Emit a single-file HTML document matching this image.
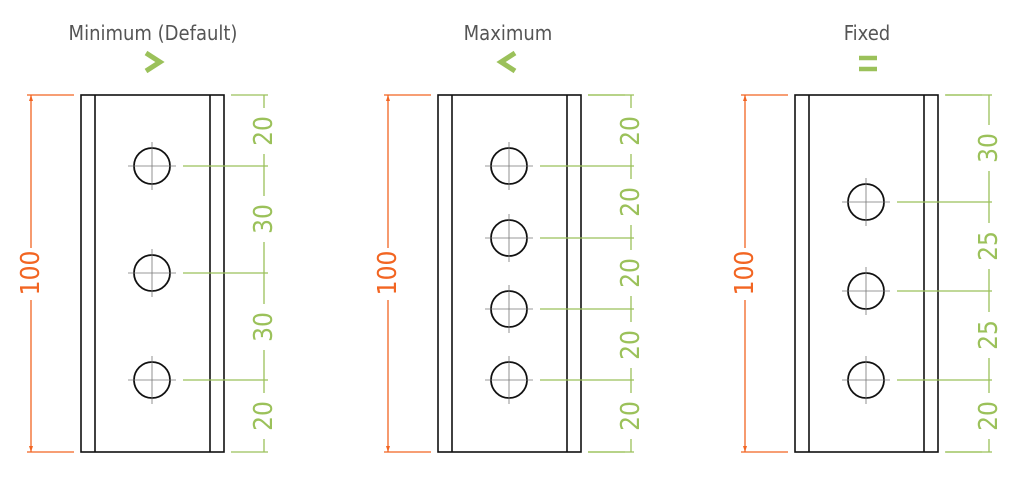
<!DOCTYPE html>
<html><head><style>
html,body{margin:0;padding:0;background:#fff;width:1024px;height:480px;overflow:hidden}
svg{display:block}
.t{font-family:"DejaVu Sans Condensed","Liberation Sans",sans-serif;font-size:20px;fill:#555;text-anchor:middle}
.d{font-family:"DejaVu Sans Condensed","Liberation Sans",sans-serif;font-size:26px;fill:#9bc15a;text-anchor:middle;dominant-baseline:central}
.o{font-family:"DejaVu Sans Condensed","Liberation Sans",sans-serif;font-size:26px;fill:#f26522;text-anchor:middle;dominant-baseline:central}
.pl{fill:none;stroke:#111;stroke-width:1.6}
.g{stroke:#9bc15a;stroke-width:1.3;fill:none}
.or{stroke:#f26522;stroke-width:1.3;fill:none}
.c{stroke:#777;stroke-width:0.8}
.h{fill:none;stroke:#111;stroke-width:1.8}
.bg{fill:#fff}
</style></head><body>
<svg width="1024" height="480" viewBox="0 0 1024 480">
<defs>
<g id="plate">
  <rect class="pl" x="81" y="95" width="143" height="357"/>
  <line class="pl" x1="95" y1="95" x2="95" y2="452"/>
  <line class="pl" x1="210" y1="95" x2="210" y2="452"/>
  <line class="or" x1="27" y1="95" x2="74" y2="95"/>
  <line class="or" x1="27" y1="452" x2="74" y2="452"/>
  <line class="or" x1="31" y1="95" x2="31" y2="452"/>
  <path d="M31 95 l-2 6 h4z M31 452 l-2 -6 h4z" fill="#f26522"/>
  <rect class="bg" x="18" y="248" width="26" height="52"/>
  <text class="o" transform="translate(31,273) rotate(-90)">100</text>
  <line class="g" x1="231" y1="95" x2="268" y2="95"/>
  <line class="g" x1="231" y1="452" x2="268" y2="452"/>
</g>
<g id="hole">
  <circle class="h" cx="0" cy="0" r="18"/>
  <line class="c" x1="-24" y1="0" x2="24" y2="0"/>
  <line class="c" x1="0" y1="-24" x2="0" y2="24"/>
</g>
</defs>

<!-- Panel 1 -->
<text class="t" x="153" y="40">Minimum (Default)</text>
<polyline points="146,53 160,62 146,71" fill="none" stroke="#9bc15a" stroke-width="5"/>
<use href="#plate"/>
<use href="#hole" x="152" y="166"/><use href="#hole" x="152" y="273"/><use href="#hole" x="152" y="380"/>
<line class="g" x1="264" y1="95" x2="264" y2="452"/>
<g class="bg"><rect x="251" y="108" width="26" height="46"/><rect x="251" y="196" width="26" height="46"/><rect x="251" y="304" width="26" height="46"/><rect x="251" y="393" width="26" height="46"/></g>
<line class="g" x1="183" y1="166" x2="268" y2="166"/>
<line class="g" x1="183" y1="273" x2="268" y2="273"/>
<line class="g" x1="183" y1="380" x2="268" y2="380"/>
<text class="d" transform="translate(264,131) rotate(-90)">20</text>
<text class="d" transform="translate(264,219) rotate(-90)">30</text>
<text class="d" transform="translate(264,327) rotate(-90)">30</text>
<text class="d" transform="translate(264,416) rotate(-90)">20</text>

<!-- Panel 2 -->
<text class="t" x="508" y="40">Maximum</text>
<polyline points="515,53 501,62 515,71" fill="none" stroke="#9bc15a" stroke-width="5"/>
<use href="#plate" x="357"/>
<use href="#hole" x="509" y="166"/><use href="#hole" x="509" y="238"/><use href="#hole" x="509" y="309"/><use href="#hole" x="509" y="380"/>
<line class="g" x1="588" y1="95" x2="634" y2="95"/>
<line class="g" x1="588" y1="452" x2="634" y2="452"/>
<line class="g" x1="631" y1="95" x2="631" y2="452"/>
<g class="bg"><rect x="618" y="108" width="26" height="46"/><rect x="618" y="179" width="26" height="46"/><rect x="618" y="250" width="26" height="46"/><rect x="618" y="322" width="26" height="46"/><rect x="618" y="393" width="26" height="46"/></g>
<line class="g" x1="540" y1="166" x2="634" y2="166"/>
<line class="g" x1="540" y1="238" x2="634" y2="238"/>
<line class="g" x1="540" y1="309" x2="634" y2="309"/>
<line class="g" x1="540" y1="380" x2="634" y2="380"/>
<text class="d" transform="translate(631,131) rotate(-90)">20</text>
<text class="d" transform="translate(631,202) rotate(-90)">20</text>
<text class="d" transform="translate(631,273) rotate(-90)">20</text>
<text class="d" transform="translate(631,345) rotate(-90)">20</text>
<text class="d" transform="translate(631,416) rotate(-90)">20</text>

<!-- Panel 3 -->
<text class="t" x="867" y="40">Fixed</text>
<line x1="859" y1="58" x2="877" y2="58" stroke="#9bc15a" stroke-width="4.5"/>
<line x1="859" y1="69" x2="877" y2="69" stroke="#9bc15a" stroke-width="4.5"/>
<use href="#plate" x="714"/>
<use href="#hole" x="866" y="202"/><use href="#hole" x="866" y="291"/><use href="#hole" x="866" y="380"/>
<line class="g" x1="946" y1="95" x2="992" y2="95"/>
<line class="g" x1="946" y1="452" x2="992" y2="452"/>
<line class="g" x1="989" y1="95" x2="989" y2="452"/>
<g class="bg"><rect x="976" y="125" width="26" height="46"/><rect x="976" y="223" width="26" height="46"/><rect x="976" y="312" width="26" height="46"/><rect x="976" y="393" width="26" height="46"/></g>
<line class="g" x1="897" y1="202" x2="992" y2="202"/>
<line class="g" x1="897" y1="291" x2="992" y2="291"/>
<line class="g" x1="897" y1="380" x2="992" y2="380"/>
<text class="d" transform="translate(989,148) rotate(-90)">30</text>
<text class="d" transform="translate(989,246) rotate(-90)">25</text>
<text class="d" transform="translate(989,335) rotate(-90)">25</text>
<text class="d" transform="translate(989,416) rotate(-90)">20</text>
</svg>
</body></html>
